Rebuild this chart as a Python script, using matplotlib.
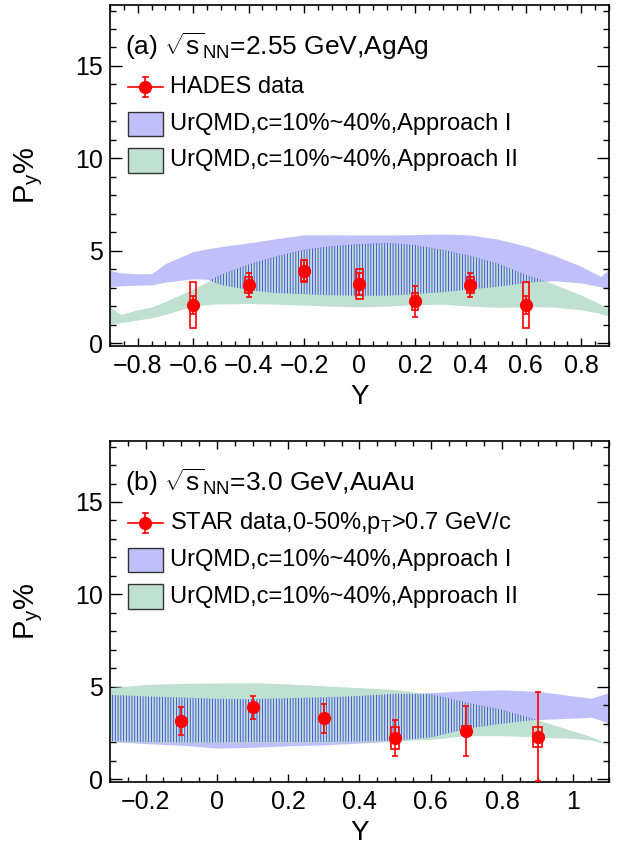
import numpy as np
import matplotlib.pyplot as plt
from matplotlib.patches import Rectangle
from matplotlib.lines import Line2D
from matplotlib.ticker import MultipleLocator, FuncFormatter

plt.rcParams['font.family'] = ['Liberation Sans', 'DejaVu Sans']
plt.rcParams['mathtext.fontset'] = 'custom'
plt.rcParams['mathtext.rm'] = 'Liberation Sans'
plt.rcParams['mathtext.it'] = 'Liberation Sans:italic'
plt.rcParams['hatch.linewidth'] = 0.6

# ── Data: panel (a), HADES 2.55 GeV AgAg ─────────────────
band_x_a = [-0.9, -0.86, -0.8, -0.75, -0.7, -0.6, -0.55, -0.5, -0.4, -0.3, -0.2, -0.1,
            0.0, 0.1, 0.2, 0.3, 0.4, 0.5, 0.6, 0.7, 0.8, 0.87, 0.9]
app1_hi_a = [3.93, 3.8, 3.75, 3.75, 4.3, 4.95, 5.1, 5.22, 5.42, 5.65, 5.86, 5.86,
             5.85, 5.85, 5.87, 5.9, 5.85, 5.62, 5.25, 4.75, 4.15, 3.6, 4.0]
app1_lo_a = [3.06, 3.1, 3.13, 3.15, 3.3, 3.48, 3.45, 3.15, 2.86, 2.7, 2.65, 2.58,
             2.56, 2.56, 2.65, 2.75, 2.9, 3.05, 3.25, 3.38, 3.25, 3.05, 2.95]
app2_hi_a = [1.95, 1.55, 1.8, 1.95, 2.25, 2.93, 3.3, 3.7, 4.25, 4.7, 5.05, 5.25,
             5.35, 5.42, 5.3, 5.05, 4.72, 4.3, 3.7, 3.2, 2.6, 2.1, 1.85]
app2_lo_a = [1.05, 1.1, 1.25, 1.37, 1.55, 2.01, 2.08, 2.12, 2.14, 2.1, 2.05, 2.0,
             1.96, 2.0, 2.08, 2.1, 2.0, 1.93, 1.96, 1.95, 1.8, 1.6, 1.45]

hades_x = [-0.6, -0.4, -0.2, 0.0, 0.2, 0.4, 0.6]
hades_y = [2.05, 3.12, 3.92, 3.2, 2.25, 3.12, 2.05]
hades_stat = [0.5, 0.65, 0.55, 0.6, 0.85, 0.65, 0.5]
hades_sys = [1.25, 0.43, 0.6, 0.8, 0.44, 0.43, 1.25]

# ── Data: panel (b), STAR 3.0 GeV AuAu ───────────────────
band_x_b = [-0.3, -0.2, -0.1, 0.0, 0.1, 0.2, 0.3, 0.4, 0.5, 0.6, 0.7, 0.8, 0.9, 1.0, 1.05, 1.1]
app1_hi_b = [4.56, 4.48, 4.42, 4.35, 4.33, 4.38, 4.43, 4.5, 4.62, 4.68, 4.78, 4.83, 4.75, 4.5, 4.38, 4.68]
app1_lo_b = [2.03, 1.92, 1.83, 1.68, 1.72, 1.8, 1.85, 1.95, 2.05, 2.25, 2.72, 3.0, 3.22, 3.3, 3.35, 3.03]
app2_hi_b = [4.95, 5.12, 5.18, 5.2, 5.22, 5.15, 5.05, 4.95, 4.85, 4.6, 4.15, 3.75, 3.2, 2.6, 2.3, 1.85]
app2_lo_b = [2.05, 2.0, 1.98, 1.98, 2.0, 2.0, 2.0, 2.03, 2.08, 2.15, 2.35, 2.35, 2.28, 2.2, 2.12, 1.85]

star_x = [-0.1, 0.1, 0.3, 0.5, 0.7, 0.9]
star_y = [3.15, 3.88, 3.3, 2.22, 2.61, 2.3]
star_stat = [0.77, 0.64, 0.79, 0.98, 1.37, 2.4]
star_sys = [0.0, 0.0, 0.0, 0.61, 0.25, 0.54]

BLUE_FILL = '#bfbffa'
BLUE_LINE = '#3a3ae6'
GREEN_FILL = '#c0e1d1'
RED = '#ff0000'


def fmt_tick(v, pos):
    if abs(v) < 1e-9:
        return '0'
    return ('%g' % round(v, 2)).replace('-', '\u2212')


def draw_panel(ax, bx, b1_hi, b1_lo, b2_hi, b2_lo, px, py, pstat, psys, xlim, title, data_label):
    bx = np.array(bx)
    b1_hi, b1_lo = np.array(b1_hi), np.array(b1_lo)
    b2_hi, b2_lo = np.array(b2_hi), np.array(b2_lo)

    # approach I (lavender), approach II (green) on top, overlap hatched
    ax.fill_between(bx, b1_lo, b1_hi, color=BLUE_FILL, lw=0, zorder=1)
    ax.fill_between(bx, b2_lo, b2_hi, color=GREEN_FILL, lw=0, zorder=2)
    ov_lo = np.maximum(b1_lo, b2_lo)
    ov_hi = np.minimum(b1_hi, b2_hi)
    ax.fill_between(bx, ov_lo, ov_hi, where=ov_hi > ov_lo, interpolate=True,
                    facecolor='none', edgecolor=BLUE_LINE, hatch='||||||', lw=0, zorder=3)

    # systematic boxes
    for x, y, s in zip(px, py, psys):
        if s > 0:
            ax.add_patch(Rectangle((x - 0.012, y - s), 0.024, 2 * s, fill=False,
                                   ec=RED, lw=1.2, zorder=4))
    ax.errorbar(px, py, yerr=pstat, fmt='o', color=RED, ms=8.5, capsize=2.5,
                elinewidth=1.2, capthick=1.2, zorder=5)

    ax.set_xlim(*xlim)
    ax.set_ylim(-0.16, 18.3)
    ax.xaxis.set_major_locator(MultipleLocator(0.2))
    ax.xaxis.set_minor_locator(MultipleLocator(0.05))
    ax.yaxis.set_major_locator(MultipleLocator(5))
    ax.yaxis.set_minor_locator(MultipleLocator(1))
    ax.xaxis.set_major_formatter(FuncFormatter(fmt_tick))
    ax.yaxis.set_major_formatter(FuncFormatter(fmt_tick))
    ax.tick_params(which='both', direction='in', top=True, right=True, labelsize=18, width=1)
    ax.tick_params(axis='x', which='major', length=6, pad=6)
    ax.tick_params(axis='x', which='minor', length=3.5)
    ax.tick_params(axis='y', which='major', length=8.5, pad=5)
    ax.tick_params(axis='y', which='minor', length=4.5)
    for sp in ax.spines.values():
        sp.set_linewidth(1.2)

    ax.set_xlabel('Y', fontsize=20)
    ax.xaxis.set_label_coords(0.5, -0.11)
    ax.set_ylabel(r'P$_{\mathrm{y}}$%', fontsize=21)
    ax.yaxis.set_label_coords(-0.13, 0.5)

    # legend, drawn by hand like the ROOT TLegend
    tr = ax.transAxes
    ax.text(0.03, 0.88, title, transform=tr, fontsize=19, va='center', ha='left')
    ax.add_line(Line2D([0.036, 0.106], [0.76, 0.76], transform=tr, color=RED, lw=1.2))
    ax.add_line(Line2D([0.071, 0.071], [0.73, 0.79], transform=tr, color=RED, lw=1.2))
    for yy in (0.73, 0.79):
        ax.add_line(Line2D([0.066, 0.076], [yy, yy], transform=tr, color=RED, lw=1.2))
    ax.add_line(Line2D([0.071], [0.76], transform=tr, marker='o', ms=8.5, color=RED))
    ax.add_patch(Rectangle((0.036, 0.615), 0.07, 0.072, transform=tr,
                           fc=BLUE_FILL, ec='#333333', lw=1, zorder=6))
    ax.add_patch(Rectangle((0.036, 0.508), 0.07, 0.072, transform=tr,
                           fc=GREEN_FILL, ec='#333333', lw=1, zorder=6))
    ax.text(0.12, 0.76, data_label, transform=tr, fontsize=17, va='center')
    ax.text(0.12, 0.651, 'UrQMD,c=10%~40%,Approach I', transform=tr, fontsize=17, va='center')
    ax.text(0.12, 0.544, 'UrQMD,c=10%~40%,Approach II', transform=tr, fontsize=17, va='center')


fig = plt.figure(figsize=(6.27, 8.47), dpi=100)
ax1 = fig.add_axes([0.1754, 0.5915, 0.7959, 0.4026])
ax2 = fig.add_axes([0.1754, 0.0767, 0.7959, 0.4026])

draw_panel(ax1, band_x_a, app1_hi_a, app1_lo_a, app2_hi_a, app2_lo_a,
           hades_x, hades_y, hades_stat, hades_sys, (-0.9, 0.9),
           r'(a) $\sqrt{\mathrm{s}}_{\mathrm{NN}}$=2.55 GeV,AgAg', 'HADES data')
draw_panel(ax2, band_x_b, app1_hi_b, app1_lo_b, app2_hi_b, app2_lo_b,
           star_x, star_y, star_stat, star_sys, (-0.3, 1.1),
           r'(b) $\sqrt{\mathrm{s}}_{\mathrm{NN}}$=3.0 GeV,AuAu',
           r'STAR data,0-50%,p$_{\mathrm{T}}$>0.7 GeV/c')

fig.savefig('out.png', dpi=100)
